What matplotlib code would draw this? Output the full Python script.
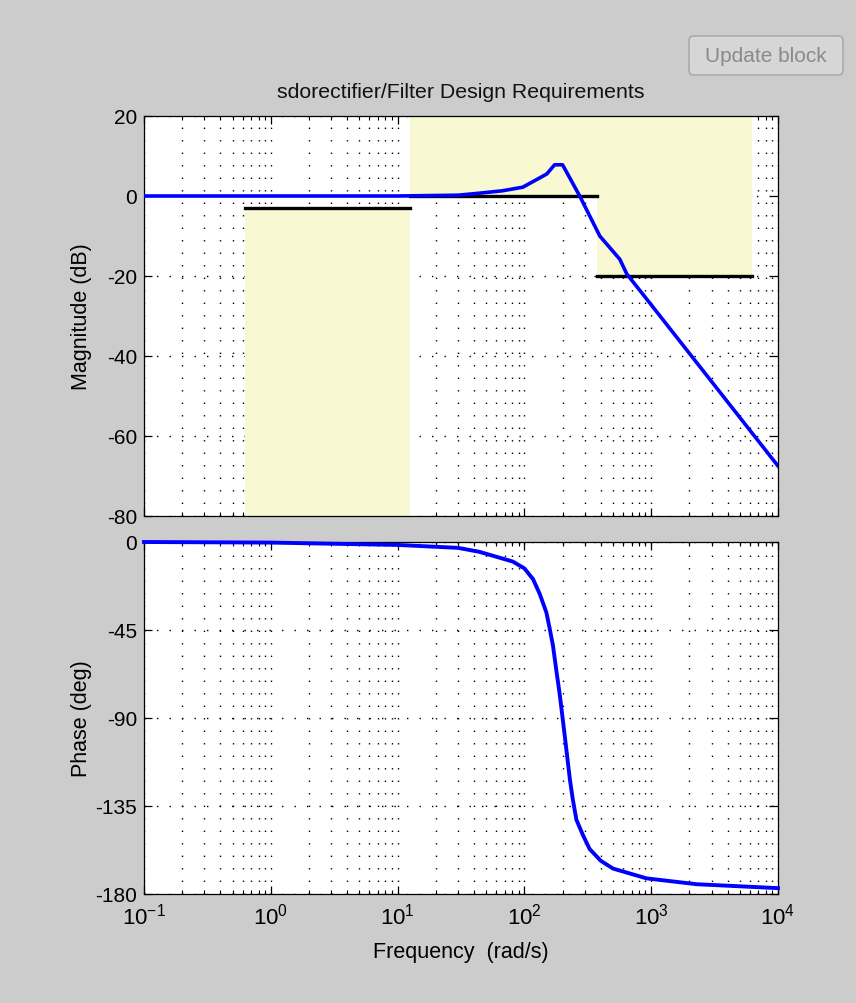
import matplotlib
matplotlib.use('Agg')
import matplotlib.pyplot as plt
from matplotlib.patches import FancyBboxPatch
from matplotlib.ticker import LogLocator, NullFormatter, FixedLocator

plt.rcParams['font.family'] = ['Liberation Sans', 'DejaVu Sans']
plt.rcParams['mathtext.fontset'] = 'custom'
plt.rcParams['mathtext.rm'] = 'Liberation Sans'
plt.rcParams['mathtext.it'] = 'Liberation Sans'
plt.rcParams['axes.unicode_minus'] = False
plt.rcParams['font.size'] = 14.5

# Magnitude response (rad/s, dB)
mag_freq = [0.1, 1, 10, 30, 44, 67, 97, 120, 150, 173, 200, 273, 393, 565, 642, 923, 10000]
mag_db = [0, 0, 0, 0.2, 0.7, 1.3, 2.2, 3.8, 5.5, 7.8, 7.8, 0, -10, -15.8, -19.5, -25.8, -67.5]

# Phase response (rad/s, deg)
phase_freq = [0.1, 1, 10, 30, 44, 81, 100, 117, 132, 149, 158, 168, 178, 190, 208, 228,
              240, 257, 290, 327, 400, 500, 918, 2282, 10000]
phase_deg = [0, -0.3, -1.5, -3, -5, -10, -13.5, -19, -26.5, -36, -44, -53, -65, -78, -99, -121,
             -131, -142, -150, -157, -163, -167, -172, -175, -177]

# Design requirements: lower bound (passband) and upper bounds
lower_freq = [0.628, 12.57]
lower_db = -3
upper_freq = [[12.57, 377], [377, 6283]]
upper_db = [0, -20]

mag_ticks = [20, 0, -20, -40, -60, -80]
phase_ticks = [0, -45, -90, -135, -180]

bg = '#cccccc'
req_yellow = '#f8f8d2'
grid_style = dict(color='black', linestyle=(0, (1, 8)), linewidth=1.0)

fig = plt.figure(figsize=(8.56, 10.04), dpi=100, facecolor=bg)
W, H = 856, 1004
left, right = 144, 778
ax1 = fig.add_axes([left / W, 1 - 517 / H, (right - left) / W, 400 / H])
ax2 = fig.add_axes([left / W, 1 - 895 / H, (right - left) / W, 352 / H])

for ax in (ax1, ax2):
    ax.set_xscale('log')
    ax.set_xlim(0.1, 10000)
    ax.set_axisbelow(True)
    ax.xaxis.set_major_locator(LogLocator(base=10, numticks=10))
    ax.xaxis.set_minor_locator(LogLocator(base=10, subs=range(2, 10), numticks=50))
    ax.xaxis.set_minor_formatter(NullFormatter())
    ax.grid(True, which='major', axis='both', **grid_style)
    ax.grid(True, which='minor', axis='x', **grid_style)
    ax.tick_params(which='both', direction='in', top=True, right=True, color='black')
    ax.tick_params(which='major', length=6, width=0.9)
    ax.tick_params(which='minor', length=3, width=0.8)
    ax.tick_params(axis='y', pad=5, labelsize=15)
    ax.tick_params(axis='x', pad=6, labelsize=16)
    for s in ax.spines.values():
        s.set_linewidth(0.9)
        s.set_color('black')

# Top: magnitude with requirement regions
ax1.set_ylim(-80, 20)
ax1.yaxis.set_major_locator(FixedLocator(mag_ticks))
ax1.fill_between(lower_freq, lower_db, -80, color=req_yellow, lw=0, zorder=1)
ax1.plot(lower_freq, [lower_db, lower_db], color='black', lw=2.4, zorder=2)
for f, lvl in zip(upper_freq, upper_db):
    ax1.fill_between(f, lvl, 20, color=req_yellow, lw=0, zorder=1)
    ax1.plot(f, [lvl, lvl], color='black', lw=2.4, zorder=2)
ax1.plot(mag_freq, mag_db, color='#0000ff', lw=2.6, zorder=3)
ax1.tick_params(axis='x', labelbottom=False)
ax1.set_ylabel('Magnitude (dB)', fontsize=15.5)
ax1.yaxis.set_label_coords(-0.082, 0.5)
ax1.set_title('sdorectifier/Filter Design Requirements', pad=14, color='#111111', fontsize=15.3)

# Bottom: phase
ax2.set_ylim(-180, 0)
ax2.yaxis.set_major_locator(FixedLocator(phase_ticks))
ax2.plot(phase_freq, phase_deg, color='#0000ff', lw=2.8, zorder=3, clip_on=False)
ax2.set_ylabel('Phase (deg)', fontsize=15.5)
ax2.yaxis.set_label_coords(-0.082, 0.5)
ax2.set_xlabel('Frequency  (rad/s)', fontsize=15.5)
ax2.xaxis.set_label_coords(0.5, -0.133)
ax2.xaxis.label.set_va('top')

# "Update block" button
btn = FancyBboxPatch((689 / W, 1 - 76 / H), 154 / W, 39 / H,
                     boxstyle='round,pad=0,rounding_size=0.005',
                     transform=fig.transFigure, facecolor='#d6d6d6',
                     edgecolor='#a4a4a4', linewidth=1.0)
fig.patches.append(btn)
fig.text(766 / W, 1 - 56 / H, 'Update block', ha='center', va='center',
         color='#8a8a8a', fontsize=15)

plt.savefig('out.png', dpi=100, facecolor=bg)
